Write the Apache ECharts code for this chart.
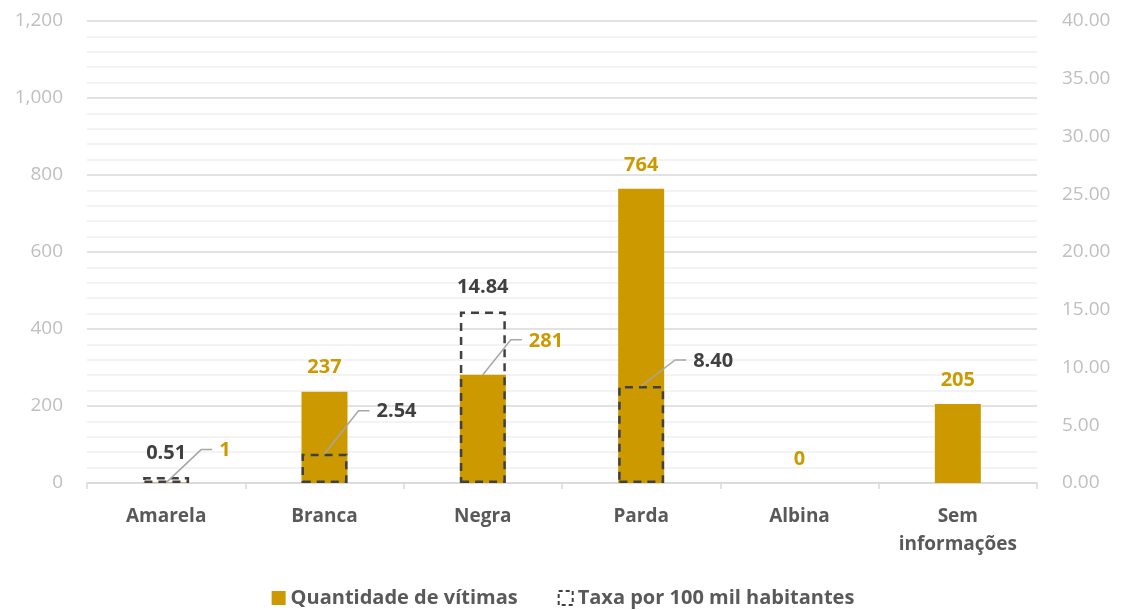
<!DOCTYPE html>
<html>
<head>
<meta charset="utf-8">
<script src="https://cdn.jsdelivr.net/npm/echarts@6/dist/echarts.min.js"></script>
<style>
  html, body { margin: 0; padding: 0; background: #fff; }
  #main { width: 1126px; height: 610px; }
</style>
</head>
<body>
<div id="main"></div>
<script>
var categories = ['Amarela', 'Branca', 'Negra', 'Parda', 'Albina', 'Sem\ninformações'];
var vitimas = [1, 237, 281, 764, 0, 205];
var taxa = [0.51, 2.54, 14.84, 8.40, null, null];

// labels moved aside with a leader line: index -> [dx, dy] of the bend
var vitimasCallout = { 0: [35, -33], 2: [28, -35] };
var taxaCallout = { 1: [34, -43], 3: [34, -26] };

var GOLD = '#CC9A00';
var DARK = '#404040';
var FONT = '"Open Sans", Lato, sans-serif';

function calloutData(values, callout) {
    var out = [];
    for (var k in callout) {
        out.push([Number(k), values[k]]);
    }
    return out;
}

function calloutSeries(values, callout, axis, color, fmt) {
    var keys = Object.keys(callout);
    return {
        type: 'custom',
        yAxisIndex: axis,
        z: 10,
        silent: true,
        data: calloutData(values, callout),
        renderItem: function (params, api) {
            var p = api.coord([api.value(0), api.value(1)]);
            var o = callout[keys[params.dataIndex]];
            var x1 = p[0] + o[0], y1 = p[1] + o[1];
            return {
                type: 'group',
                children: [
                    {
                        type: 'polyline',
                        shape: { points: [[p[0], p[1]], [x1, y1], [x1 + 11, y1]] },
                        style: { stroke: '#A6A6A6', lineWidth: 1.5, fill: null }
                    },
                    {
                        type: 'text',
                        style: {
                            text: fmt(api.value(1)),
                            x: x1 + 18, y: y1 + 1,
                            align: 'left', verticalAlign: 'middle',
                            fill: color,
                            font: 'bold 20px ' + FONT
                        }
                    }
                ]
            };
        }
    };
}

var chart = echarts.init(document.getElementById('main'));

var option = {
    animation: false,
    textStyle: { fontFamily: FONT },
    grid: { left: 87, right: 89, top: 21, bottom: 127 },
    legend: {
        top: 583,
        left: 'center',
        itemWidth: 14,
        itemHeight: 14,
        itemGap: 40,
        textStyle: { color: '#595959', fontSize: 20, fontWeight: 'bold', fontFamily: FONT },
        data: [
            { name: 'Quantidade de vítimas', icon: 'rect', itemStyle: { color: GOLD } },
            {
                name: 'Taxa por 100 mil habitantes', icon: 'rect',
                itemStyle: { color: 'transparent', borderColor: DARK, borderWidth: 2, borderType: [4, 3] }
            }
        ]
    },
    xAxis: {
        type: 'category',
        data: categories,
        axisLine: { lineStyle: { color: '#D9D9D9', width: 1.5 } },
        axisTick: { show: true, length: 6, lineStyle: { color: '#D9D9D9', width: 1.5 } },
        axisLabel: {
            color: '#595959', fontSize: 19, fontWeight: 'bold', fontFamily: FONT,
            margin: 20, lineHeight: 28
        }
    },
    yAxis: [
        {
            type: 'value',
            min: 0, max: 1200, interval: 200,
            axisLine: { show: false },
            axisTick: { show: false },
            axisLabel: {
                color: '#BFBFBF', fontSize: 19, margin: 24, fontFamily: FONT,
                formatter: function (v) { return v.toLocaleString('en-US'); }
            },
            splitLine: { lineStyle: { color: '#D9D9D9', width: 1.5 } },
            minorTick: { show: false, splitNumber: 5 },
            minorSplitLine: { show: true, lineStyle: { color: '#F0F0F0', width: 1.5 } }
        },
        {
            type: 'value',
            min: 0, max: 40, interval: 5,
            axisLine: { show: false },
            axisTick: { show: false },
            splitLine: { show: false },
            axisLabel: {
                color: '#BFBFBF', fontSize: 19, margin: 25, fontFamily: FONT,
                formatter: function (v) { return v.toFixed(2); }
            }
        }
    ],
    series: [
        {
            name: 'Quantidade de vítimas',
            type: 'bar',
            barWidth: 46,
            barGap: '-100%',
            yAxisIndex: 0,
            itemStyle: { color: GOLD },
            label: {
                show: true, position: 'top', distance: 14,
                color: GOLD, fontSize: 20, fontWeight: 'bold', fontFamily: FONT
            },
            data: vitimas.map(function (v, i) {
                return vitimasCallout[i] ? { value: v, label: { show: false } } : v;
            })
        },
        {
            name: 'Taxa por 100 mil habitantes',
            type: 'bar',
            barWidth: 46,
            barGap: '-100%',
            yAxisIndex: 1,
            itemStyle: { color: 'transparent', borderColor: DARK, borderWidth: 2.5, borderType: [8, 6] },
            label: {
                show: true, position: 'top', distance: 14,
                color: DARK, fontSize: 20, fontWeight: 'bold', fontFamily: FONT,
                formatter: function (p) { return p.value == null ? '' : p.value.toFixed(2); }
            },
            data: taxa.map(function (v, i) {
                if (v == null) return '-';
                return taxaCallout[i] ? { value: v, label: { show: false } } : v;
            })
        },
        calloutSeries(vitimas, vitimasCallout, 0, GOLD, function (v) { return String(v); }),
        calloutSeries(taxa, taxaCallout, 1, DARK, function (v) { return v.toFixed(2); })
    ]
};

chart.setOption(option);
</script>
</body>
</html>
